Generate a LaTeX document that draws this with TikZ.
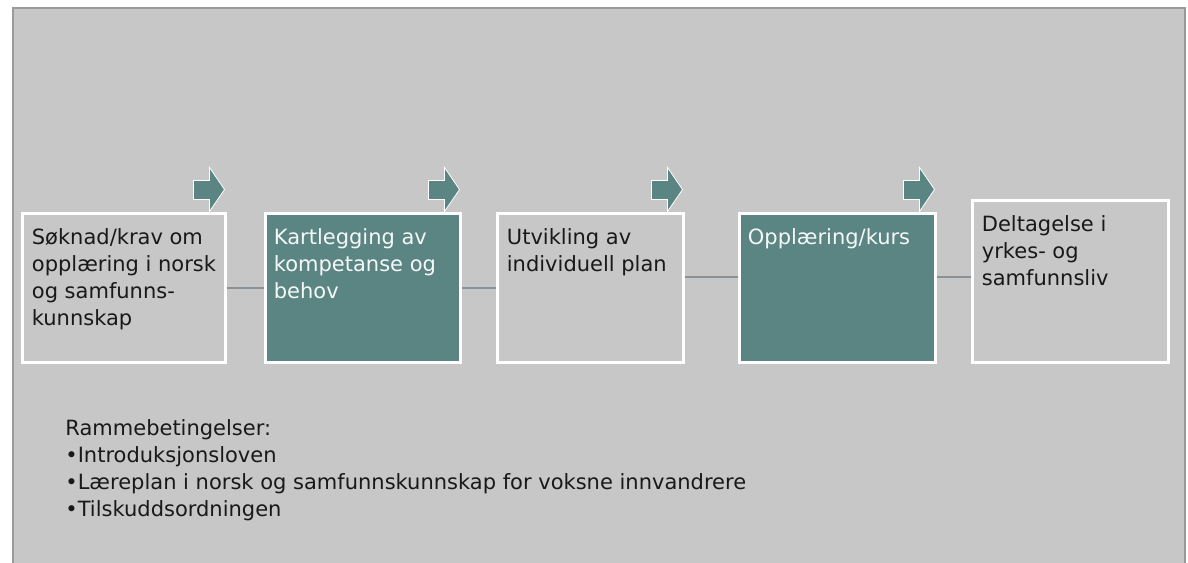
\documentclass[tikz,border=0pt]{standalone}
\usepackage{fontspec}
\setmainfont{DejaVu Sans}
\usetikzlibrary{calc,positioning,fit}
\definecolor{panelgrey}{RGB}{199,199,199}
\definecolor{framegrey}{RGB}{152,154,156}
\definecolor{linkgrey}{RGB}{138,146,152}
\definecolor{stepteal}{RGB}{90,133,131}

\begin{document}
\begin{tikzpicture}[x=0.5pt, y=-0.5pt]
\tikzstyle{every node}=[font=\fontsize{10.5}{13.5}\selectfont]
\tikzstyle{greybox}=[draw=white, line width=1.5pt, fill=panelgrey, inner sep=0pt]
\tikzstyle{tealbox}=[greybox, fill=stepteal]
\tikzstyle{boxtext}=[anchor=north west, align=left, inner sep=0pt, text=black!90]
\tikzstyle{lighttext}=[boxtext, text=white!94!stepteal]
\tikzstyle{link}=[draw=linkgrey, line width=1pt]
\tikzstyle{steparrow}=[fill=stepteal, draw=white, line width=0.4pt]

\useasboundingbox (0,0) rectangle (1188,562);
\fill[white] (0,0) rectangle (1188,562);
% panel behind the process
\fill[panelgrey] (12.5,7.5) rectangle (1185,563);
\draw[framegrey, line width=1pt] (12.5,563) -- (12.5,7.5) -- (1185,7.5) -- (1185,563);

% process boxes
\node[greybox, fit={(22,213) (225,362)}] (s1) {};
\node[tealbox, fit={(265,213) (460,362)}] (s2) {};
\node[greybox, fit={(497,213) (683,362)}] (s3) {};
\node[tealbox, fit={(739,213) (935,362)}] (s4) {};
\node[greybox, fit={(972,200) (1168,362)}] (s5) {};

\node[boxtext] (t1) at ($(s1.north west)+(11,17)$) {Søknad/krav om\\opplæring i norsk\\og samfunns-\\kunnskap};
\node[lighttext] (t2) at ($(s2.north west)+(10,17)$) {Kartlegging av\\kompetanse og\\behov};
\node[boxtext] (t3) at ($(s3.north west)+(11,17)$) {Utvikling av\\individuell plan};
\node[lighttext] (t4) at ($(s4.north west)+(10,17)$) {Opplæring/kurs};
\node[boxtext] (t5) at ($(s5.north west)+(11,17)$) {Deltagelse i\\yrkes- og\\samfunnsliv};

% links
\draw[link] (s1) -- (s2);
\draw[link] (s2) -- (s3);
\coordinate (c3) at ($(s3.east)+(0,-11)$);
\draw[link] (c3) -- (c3 -| s4.west);
\coordinate (c4) at ($(s4.east)+(0,-11)$);
\draw[link] (c4) -- (c4 -| s5.west);

% small arrows on the corners
\foreach \b in {s1,s2,s3,s4}
  \draw[steparrow] ($(\b.north east)+(-33,-31)$) -- ++(16,0) -- ++(0,-13)
    -- ++(15,22) -- ++(-15,22) -- ++(0,-12) -- ++(-16,0) -- cycle;

\node[boxtext] (rules) at (65,419) {Rammebetingelser:\\•Introduksjonsloven\\•Læreplan i norsk og samfunnskunnskap for voksne innvandrere\\•Tilskuddsordningen};
\end{tikzpicture}
\end{document}
